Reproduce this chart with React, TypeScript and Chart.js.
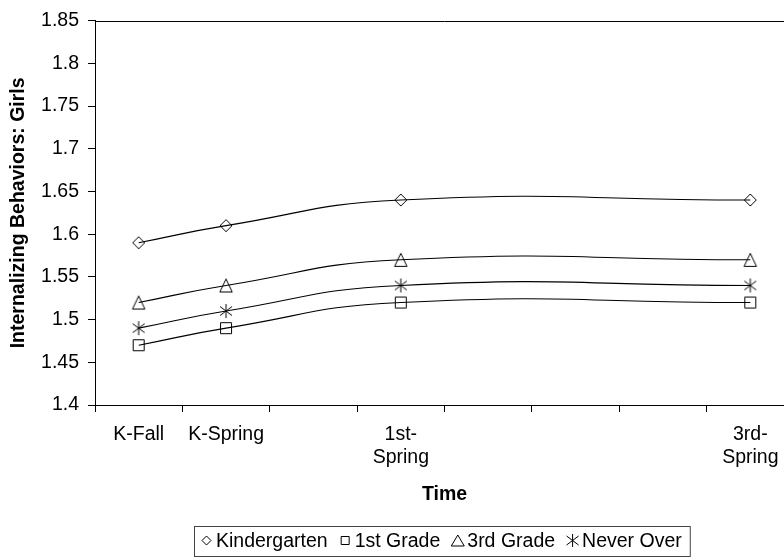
import React, { useEffect, useRef } from "react";
import { Chart, registerables } from "chart.js";

Chart.register(...registerables);

// ---- Data ----
const categories: (string | string[])[] = [
  "K-Fall",
  "K-Spring",
  "",
  ["1st-", "Spring"],
  "",
  "",
  "",
  ["3rd-", "Spring"],
];
const kindergarten = [1.59, 1.61, null, 1.64, null, null, null, 1.64];
const firstGrade = [1.47, 1.49, null, 1.52, null, null, null, 1.52];
const thirdGrade = [1.52, 1.54, null, 1.57, null, null, null, 1.57];
const neverOver = [1.49, 1.51, null, 1.54, null, null, null, 1.54];
const seriesLabels = ["Kindergarten", "1st Grade", "3rd Grade", "Never Over"];
const markerKinds = ["diamond", "square", "triangle", "asterisk"];
const yMin = 1.4;
const yMax = 1.85;
const yStep = 0.05;
const xTitle = "Time";
const yTitle = "Internalizing Behaviors: Girls";

const FONT = '"Liberation Sans", Arial, sans-serif';
const FSIZE = 19.5;

type Sz = { d: number; s: number; tw: number; th: number; ar: number; ax: number; ay: number };
const plotSz: Sz = { d: 6, s: 5.5, tw: 6.2, th: 6.5, ar: 7, ax: 6, ay: 4.5 };
const legendSz: Sz = { d: 4.5, s: 4, tw: 6.5, th: 5.5, ar: 6.5, ax: 6, ay: 4.5 };

function drawMarker(ctx: CanvasRenderingContext2D, kind: string, cx: number, cy: number, z: Sz) {
  ctx.beginPath();
  if (kind === "diamond") {
    ctx.moveTo(cx, cy - z.d);
    ctx.lineTo(cx + z.d, cy);
    ctx.lineTo(cx, cy + z.d);
    ctx.lineTo(cx - z.d, cy);
    ctx.closePath();
  } else if (kind === "square") {
    ctx.rect(cx - z.s, cy - z.s, z.s * 2, z.s * 2);
  } else if (kind === "triangle") {
    ctx.moveTo(cx, cy - z.th);
    ctx.lineTo(cx + z.tw, cy + z.th);
    ctx.lineTo(cx - z.tw, cy + z.th);
    ctx.closePath();
  } else {
    ctx.moveTo(cx, cy - z.ar);
    ctx.lineTo(cx, cy + z.ar);
    ctx.moveTo(cx - z.ax, cy - z.ay);
    ctx.lineTo(cx + z.ax, cy + z.ay);
    ctx.moveTo(cx + z.ax, cy - z.ay);
    ctx.lineTo(cx - z.ax, cy + z.ay);
  }
  ctx.stroke();
}

function makeMarkerCanvas(kind: string): HTMLCanvasElement {
  const c = document.createElement("canvas");
  c.width = 18;
  c.height = 18;
  const ctx = c.getContext("2d")!;
  ctx.strokeStyle = "#000";
  ctx.lineWidth = 1;
  drawMarker(ctx, kind, 9, 9, plotSz);
  return c;
}

const framePlugin = {
  id: "frameAndLegend",
  afterDraw(chart: any) {
    const ctx: CanvasRenderingContext2D = chart.ctx;
    const area = chart.chartArea;
    ctx.save();
    // top border of plot area
    ctx.strokeStyle = "#000";
    ctx.lineWidth = 1;
    ctx.beginPath();
    ctx.moveTo(area.left, Math.round(area.top) + 0.5);
    ctx.lineTo(area.right, Math.round(area.top) + 0.5);
    ctx.stroke();

    // boxed legend
    ctx.font = `${FSIZE}px ${FONT}`;
    const datasets = chart.data.datasets;
    const itemLead = 17; // marker + gap before text
    const gap = 10;
    const widths = datasets.map((ds: any) => ctx.measureText(ds.label).width);
    const total =
      widths.reduce((a: number, b: number) => a + b + itemLead, 0) + gap * (datasets.length - 1);
    const centerX = (area.left + area.right) / 2 - 4;
    let x = Math.round(centerX - total / 2);
    const boxL = x - 4.5;
    const boxR = x + total + 8.5;
    ctx.strokeStyle = "#444";
    ctx.strokeRect(boxL, 526.5, boxR - boxL, 30);
    ctx.fillStyle = "#000";
    ctx.textBaseline = "alphabetic";
    ctx.textAlign = "left";
    ctx.strokeStyle = "#000";
    datasets.forEach((ds: any, i: number) => {
      drawMarker(ctx, markerKinds[i], x + 7.5, 540.5, legendSz);
      ctx.fillText(ds.label, x + itemLead, 547);
      x += itemLead + widths[i] + gap;
    });
    ctx.restore();
  },
};

export default function App() {
  const ref = useRef<HTMLCanvasElement>(null);

  useEffect(() => {
    if (!ref.current) return;
    const seriesValues = [kindergarten, firstGrade, thirdGrade, neverOver];
    const datasets = seriesValues.map((vals, i) => ({
      label: seriesLabels[i],
      data: vals,
      borderColor: "#000",
      borderWidth: 1.1,
      backgroundColor: "transparent",
      pointStyle: makeMarkerCanvas(markerKinds[i]) as any,
      pointRadius: 6,
      tension: 0.5,
      spanGaps: true,
      fill: false,
    }));

    const chart = new Chart(ref.current, {
      type: "line",
      data: { labels: categories as any, datasets },
      options: {
        animation: false,
        responsive: false,
        devicePixelRatio: 1,
        layout: { padding: { top: 16, left: 0, right: 16, bottom: 53 } },
        plugins: {
          legend: { display: false },
          tooltip: { enabled: false },
        },
        scales: {
          x: {
            type: "category",
            offset: true,
            grid: {
              offset: true,
              drawOnChartArea: false,
              drawTicks: true,
              tickLength: 7,
              color: "#000",
            },
            border: { display: true, color: "#000", width: 1 },
            ticks: {
              color: "#000",
              font: { family: FONT, size: FSIZE },
              padding: 11,
              maxRotation: 0,
              autoSkip: false,
            },
            title: {
              display: true,
              text: xTitle,
              color: "#000",
              font: { family: FONT, size: FSIZE, weight: "bold" },
              padding: { top: 0, bottom: 0 },
            },
            afterFit: (scale: any) => {
              scale.height = 101;
            },
          },
          y: {
            min: yMin,
            max: yMax,
            grid: {
              drawOnChartArea: false,
              drawTicks: true,
              tickLength: 7,
              color: "#000",
            },
            border: { display: true, color: "#000", width: 1 },
            ticks: {
              stepSize: yStep,
              color: "#000",
              font: { family: FONT, size: FSIZE },
              padding: 9,
              callback: (v: any) => parseFloat(Number(v).toFixed(2)).toString(),
            },
            title: {
              display: true,
              text: yTitle,
              color: "#000",
              font: { family: FONT, size: FSIZE, weight: "bold" },
              padding: { top: 7, bottom: 0 },
            },
            afterFit: (scale: any) => {
              scale.width = 95;
            },
          },
        },
      } as any,
      plugins: [framePlugin],
    });
    return () => chart.destroy();
  }, []);

  return (
    <div
      style={{
        position: "absolute",
        left: 0,
        top: 0,
        width: 784,
        height: 559,
        overflow: "hidden",
        background: "#fff",
      }}
    >
      <canvas ref={ref} width={810} height={559} style={{ display: "block" }} />
    </div>
  );
}
